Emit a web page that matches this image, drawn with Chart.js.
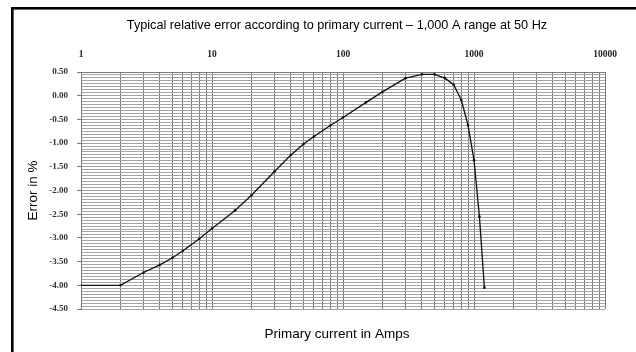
<!DOCTYPE html>
<html><head><meta charset="utf-8">
<script src="https://cdn.jsdelivr.net/npm/chart.js@4.4.1/dist/chart.umd.min.js"></script>
<style>html,body{margin:0;padding:0;background:#fff;overflow:hidden}canvas{display:block}</style>
</head><body>
<canvas id="c" width="636" height="352"></canvas>
<script>
const chartTitle = 'Typical relative error according to primary current \u2013 1,000 A range at 50 Hz';
const xAxisTitle = 'Primary current in Amps';
const yAxisTitle = 'Error in %';

// Primary current (A) and typical relative error (%)
const currents = [1, 2, 3, 4, 5, 6, 8, 10, 15, 20, 30, 40, 50, 60, 80, 100, 150, 200, 300, 400, 500, 600, 700, 800, 900, 1000, 1100, 1200];
const errors   = [-4.00, -4.00, -3.73, -3.57, -3.42, -3.27, -3.02, -2.80, -2.42, -2.10, -1.60, -1.25, -1.02, -0.86, -0.63, -0.46, -0.14, 0.08, 0.37, 0.45, 0.45, 0.37, 0.23, -0.09, -0.62, -1.36, -2.55, -4.05];

// Axis ticks
const xDecades = [1, 10, 100, 1000];
const xMultipliers = [1, 2, 3, 4, 5, 6, 7, 8, 9];
const xMax = 10000;
const xLabelValues = [1, 10, 100, 1000, 10000];
const yMin = -4.5, yMax = 0.5, yMajorStep = 0.5, yMinorPerMajor = 8;

const xGridValues = [];
xDecades.forEach(d => xMultipliers.forEach(m => xGridValues.push(d * m)));
xGridValues.push(xMax);
const yGridValues = [];
const yCount = Math.round((yMax - yMin) / yMajorStep) * yMinorPerMajor;
for (let i = 0; i <= yCount; i++) yGridValues.push(yMin + i * yMajorStep / yMinorPerMajor);

const decor = {
  id: 'decor',
  beforeDraw(chart) {
    const ctx = chart.ctx; ctx.save();
    ctx.fillStyle = '#fff'; ctx.fillRect(0, 0, chart.width, chart.height);
    ctx.restore();
  },
  afterDraw(chart) {
    const ctx = chart.ctx; ctx.save();
    ctx.fillStyle = '#000';
    ctx.fillRect(11, 7, chart.width - 11, 2.6);
    ctx.fillRect(11, 7, 2.6, chart.height - 7);
    ctx.textAlign = 'center'; ctx.textBaseline = 'middle';
    ctx.font = '12.7px "Liberation Sans", Arial, sans-serif';
    ctx.fillText(chartTitle, 337, 25);
    ctx.font = '13.5px "Liberation Sans", Arial, sans-serif';
    ctx.fillText(xAxisTitle, 337, 334);
    ctx.restore();
  }
};

new Chart(document.getElementById('c'), {
  type: 'line',
  data: {
    datasets: [{
      data: currents.map((c, i) => ({x: c, y: errors[i]})),
      borderColor: '#111',
      backgroundColor: '#111',
      borderWidth: 1.3,
      pointRadius: 1.3,
      pointBorderWidth: 0,
      pointBackgroundColor: '#111',
      tension: 0,
      fill: false
    }]
  },
  options: {
    responsive: false,
    devicePixelRatio: 1,
    animation: false,
    layout: {padding: {left: 14, right: 31, top: 40, bottom: 43}},
    plugins: {legend: {display: false}, tooltip: {enabled: false}, title: {display: false}},
    scales: {
      x: {
        type: 'logarithmic',
        position: 'top',
        min: 1, max: xMax,
        afterBuildTicks: s => { s.ticks = xGridValues.map(v => ({value: v, major: xLabelValues.includes(v)})); },
        afterFit: s => { s.height = 32; },
        ticks: {
          autoSkip: false, maxRotation: 0, minRotation: 0, padding: 12,
          color: '#222',
          font: {family: '"Liberation Serif", "Times New Roman", serif', size: 9.5, weight: 'bold'},
          callback: v => xLabelValues.includes(v) ? String(v) : ''
        },
        grid: {color: '#7a7a7a', lineWidth: 1, drawTicks: false},
        border: {display: true, color: '#7a7a7a'}
      },
      y: {
        type: 'linear',
        min: yMin, max: yMax,
        afterBuildTicks: s => { s.ticks = yGridValues.map(v => ({value: v})); },
        afterFit: s => { s.width = 67; },
        ticks: {
          autoSkip: false, padding: 9, color: '#333',
          font: {family: '"Liberation Serif", "Times New Roman", serif', size: 9, weight: 'bold'},
          callback: (v, i) => (i % yMinorPerMajor === 0) ? v.toFixed(2) : ''
        },
        grid: {
          color: '#a4a4a4', lineWidth: 1, drawTicks: true, tickLength: 4,
          tickColor: ctx => (ctx.index % yMinorPerMajor === 0) ? '#777' : 'rgba(0,0,0,0)'
        },
        border: {display: true, color: '#7a7a7a'},
        title: {
          display: true, text: yAxisTitle, color: '#000',
          font: {family: '"Liberation Sans", Arial, sans-serif', size: 13.5},
          padding: {top: 11, bottom: 0}
        }
      }
    }
  },
  plugins: [decor]
});
</script>
</body></html>
